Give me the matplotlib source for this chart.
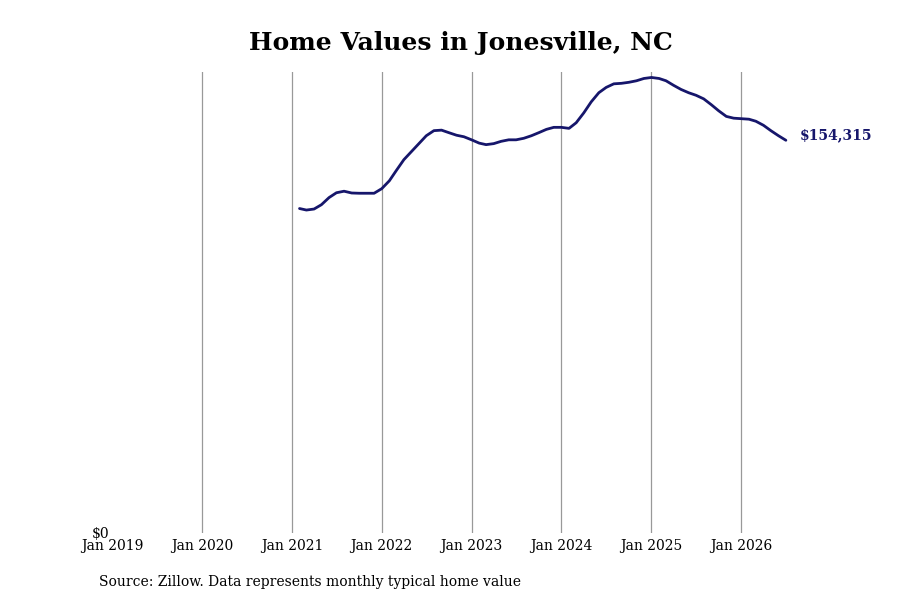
import numpy as np
import pandas as pd
import matplotlib
matplotlib.use("Agg")
import matplotlib.pyplot as plt
import matplotlib.dates as mdates

# monthly typical home value
months = pd.date_range("2021-02-01", "2026-07-01", freq="MS")
values = [
    127500, 126900, 127300, 129000, 131800, 133700, 134300, 133600, 133500, 133500, 133500,
    135300, 138400, 142400, 146700, 149800, 153000, 156100, 158100, 158300, 157300, 156300, 155700,
    154500, 153200, 152600, 153000, 153900, 154500, 154500, 155100, 156100, 157300, 158600, 159400,
    159400, 159000, 161200, 165100, 169400, 173000, 175100, 176500, 176700, 177100, 177700, 178600,
    179000, 178600, 177700, 175900, 174300, 173000, 172000, 170600, 168300, 165900, 163700, 163000,
    162800, 162600, 161800, 160200, 158100, 156100, 154315,
]
tick_years = list(range(2019, 2027))
tick_labels = ["Jan %d" % y for y in tick_years]

plt.rcParams['font.family'] = ['DejaVu Serif']

fig = plt.figure(figsize=(9, 6), dpi=100)
ax = fig.add_axes([0.1244, 0.1117, 0.9 - 0.1244, 0.88 - 0.1117])

ax.plot(months, values, color="#16166b", lw=2.0, solid_capstyle="round")

ax.set_xlim(pd.Timestamp("2019-01-01"), pd.Timestamp("2026-10-07"))
ax.set_ylim(0, max(values) * 1.012)

ax.set_xticks([pd.Timestamp("%d-01-01" % y) for y in tick_years])
ax.set_xticklabels(tick_labels, fontsize=10)
ax.set_yticks([0])
ax.set_yticklabels(["$0"], fontsize=10)
ax.tick_params(length=0, pad=2)
ax.tick_params(axis="x", pad=4)

ax.grid(axis="x", color="#999999", lw=0.9)
ax.set_axisbelow(True)
for s in ax.spines.values():
    s.set_visible(False)
# first gridline sits on the axis edge and is not drawn in the reference
ax.get_xgridlines()[0].set_visible(False)

ax.annotate("$%s" % format(values[-1], ","), xy=(months[-1], values[-1]),
            xytext=(10, 4), textcoords="offset points", fontsize=10,
            fontweight="bold", color="#16166b", va="center", ha="left",
            annotation_clip=False)

fig.text(0.512, 0.928, "Home Values in Jonesville, NC", ha="center", va="center",
         fontsize=18, fontweight="bold")
fig.text(0.11, 0.03, "Source: Zillow. Data represents monthly typical home value",
         ha="left", va="center", fontsize=10)

fig.savefig("out.png", dpi=100)
